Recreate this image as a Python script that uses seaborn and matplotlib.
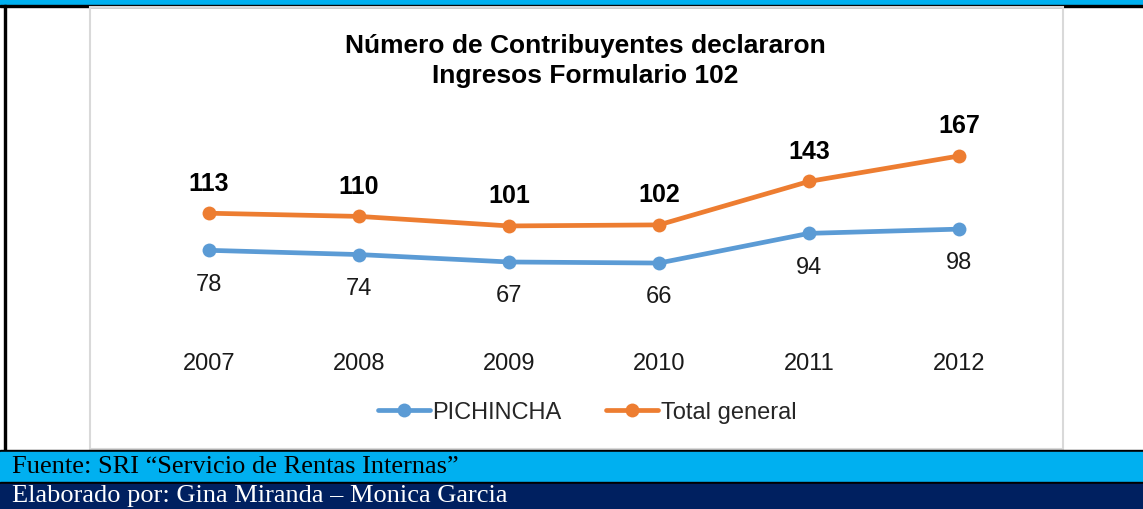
import pandas as pd
import matplotlib
matplotlib.use("Agg")
import matplotlib.pyplot as plt
from matplotlib.patches import Rectangle
from matplotlib.lines import Line2D
import seaborn as sns

# data
years = ["2007", "2008", "2009", "2010", "2011", "2012"]
pichincha = [78, 74, 67, 66, 94, 98]
total_general = [113, 110, 101, 102, 143, 167]
series_names = ["PICHINCHA", "Total general"]

title = "Número de Contribuyentes declararon\nIngresos Formulario 102"
fuente = "Fuente: SRI “Servicio de Rentas Internas”"
elaborado = "Elaborado por: Gina Miranda – Monica Garcia"

blue = "#5B9BD5"
orange = "#ED7D31"

sns.set_theme(style="white")
plt.rcParams["font.family"] = ["Liberation Sans", "DejaVu Sans"]

W, H = 1143, 510
fig = plt.figure(figsize=(W / 100, H / 100), dpi=100)

# background frame in pixel coordinates
bg = fig.add_axes([0, 0, 1, 1])
bg.set_xlim(0, W)
bg.set_ylim(H, 0)
bg.axis("off")
bg.add_patch(Rectangle((0, 0), W, 5.5, color="#00B0F0"))
bg.add_patch(Rectangle((0, 5.5), W, 2, color="black"))
bg.add_patch(Rectangle((4, 5.5), 2, 446, color="black"))
bg.add_patch(Rectangle((90, 8), 973, 442, fill=False, edgecolor="#D9D9D9", lw=1.5))
bg.add_patch(Rectangle((0, 450.5), W, 2, color="black"))
bg.add_patch(Rectangle((0, 452.5), W, 30, color="#00B0F0"))
bg.add_patch(Rectangle((0, 482.5), W, 2, color="black"))
bg.add_patch(Rectangle((0, 484.5), W, 26, color="#002060"))
bg.text(12, 467.5, fuente, fontsize=19, family=["Liberation Serif", "DejaVu Serif"],
        color="black", va="center", ha="left")
bg.text(12, 496.5, elaborado, fontsize=19, family=["Liberation Serif", "DejaVu Serif"],
        color="white", va="center", ha="left")

fig.text(585 / W, 1 - 61 / H, title, ha="center", va="center", fontsize=19,
         fontweight="bold", color="black", linespacing=1.32)

# chart axes
ax = fig.add_axes([134 / W, 1 - 334 / H, 900 / W, 212 / H])
df = pd.DataFrame({
    "year": list(range(len(years))) * 2,
    "value": pichincha + total_general,
    "serie": [series_names[0]] * len(years) + [series_names[1]] * len(years),
})
sns.lineplot(data=df, x="year", y="value", hue="serie", palette=[blue, orange],
             marker="o", markersize=10, markeredgewidth=0, linewidth=3.4,
             legend=False, ax=ax)
ax.set_xlim(-0.5, len(years) - 0.5)
ax.set_ylim(0, 200)
ax.set_xticks(range(len(years)))
ax.set_xticklabels(years)
ax.set_yticks([])
ax.set_xlabel("")
ax.set_ylabel("")
ax.tick_params(axis="x", length=0, pad=14, labelsize=17, labelcolor="#1a1a1a")
for s in ax.spines.values():
    s.set_visible(False)
ax.patch.set_alpha(0)

for i, v in enumerate(total_general):
    ax.annotate(str(v), (i, v), xytext=(0, 22), textcoords="offset points",
                ha="center", va="center", fontsize=18, fontweight="bold", color="black")
for i, v in enumerate(pichincha):
    ax.annotate(str(v), (i, v), xytext=(0, -24), textcoords="offset points",
                ha="center", va="center", fontsize=17, color="#1a1a1a")

handles = [Line2D([], [], color=c, lw=3.4, marker="o", markersize=10, markeredgewidth=0)
           for c in (blue, orange)]
fig.legend(handles, series_names, loc="center", bbox_to_anchor=(587 / W, 1 - 413 / H),
           ncol=2, frameon=False, fontsize=17, handlelength=2.2, handletextpad=0.1,
           columnspacing=1.9)

fig.savefig("out.png", dpi=100)
